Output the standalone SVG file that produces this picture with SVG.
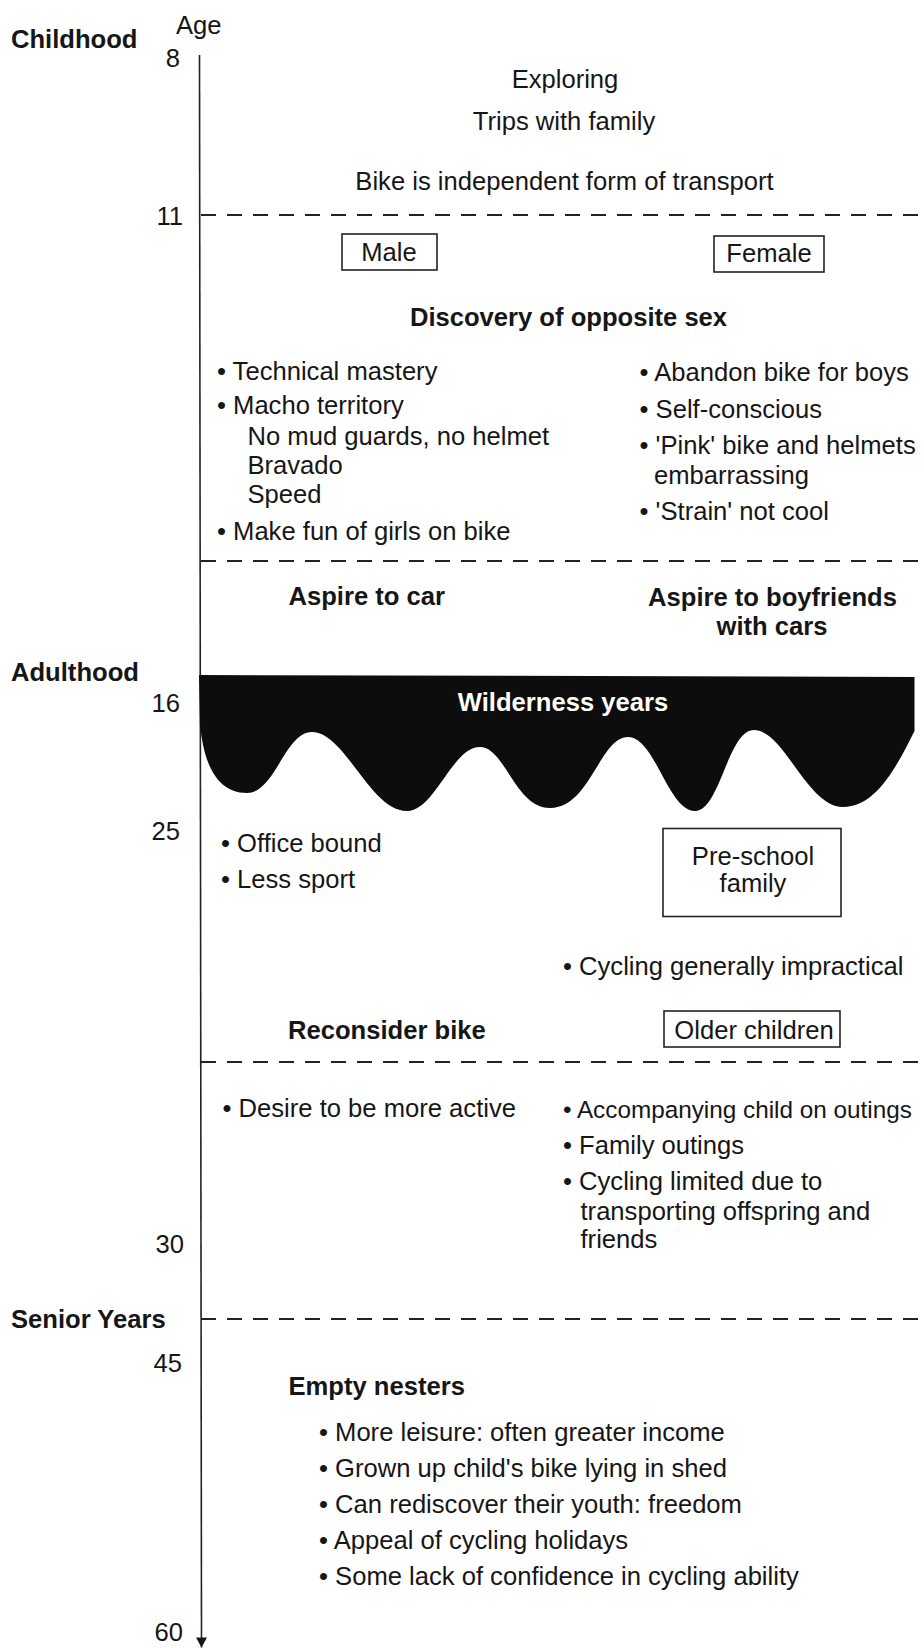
<svg xmlns="http://www.w3.org/2000/svg" width="924" height="1648" viewBox="0 0 924 1648">
<style>
text{font-family:"Liberation Sans",Arial,sans-serif;font-size:25.6px;fill:#161616}
.b{font-weight:bold}
.c{text-anchor:middle}
.e{text-anchor:end}
.n{font-size:24.3px}
.dash{stroke:#222;stroke-width:1.8;stroke-dasharray:15 11;fill:none}
.box{fill:none;stroke:#222;stroke-width:1.6}
.w{fill:#fff}
</style>
<defs>
<marker id="arr" viewBox="0 0 10 11" refX="10" refY="5.5" markerWidth="10" markerHeight="11" markerUnits="userSpaceOnUse" orient="auto">
<path d="M0 0 L10 5.5 L0 11 Z" fill="#161616"/>
</marker>
</defs>
<rect width="924" height="1648" fill="#fff"/>

<g id="connectors">
<line x1="199.5" y1="55" x2="201.5" y2="1647.5" stroke="#222" stroke-width="1.6" marker-end="url(#arr)"/>
<line class="dash" x1="201" y1="215" x2="924" y2="215"/>
<line class="dash" x1="201" y1="561" x2="924" y2="561"/>
<line class="dash" x1="201" y1="1062" x2="924" y2="1062"/>
<line class="dash" x1="201" y1="1319" x2="924" y2="1319"/>
</g>

<g id="axis-labels">
<text class="b" x="11" y="48">Childhood</text>
<text x="176" y="34">Age</text>
<text class="b" x="11" y="681">Adulthood</text>
<text class="b" x="11" y="1328">Senior Years</text>
<text class="e" x="180" y="66.5">8</text>
<text class="e" x="183" y="225">11</text>
<text class="e" x="180" y="712">16</text>
<text class="e" x="180" y="840">25</text>
<text class="e" x="184" y="1253">30</text>
<text class="e" x="182" y="1372">45</text>
<text class="e" x="183" y="1640.5">60</text>
</g>

<g id="childhood">
<text class="c" x="565" y="88">Exploring</text>
<text class="c" x="564" y="130">Trips with family</text>
<text class="c" x="564.5" y="190">Bike is independent form of transport</text>
</g>

<g id="male">
<rect class="box" x="342" y="234" width="95" height="36"/>
<text class="c" x="389" y="261">Male</text>
</g>
<g id="female">
<rect class="box" x="714" y="236" width="110" height="36"/>
<text class="c" x="769" y="262">Female</text>
</g>

<g id="discovery">
<text class="b c" x="568.5" y="326">Discovery of opposite sex</text>
</g>

<g id="male-traits">
<text x="217" y="380">• Technical mastery</text>
<text x="217" y="414">• Macho territory</text>
<text x="247.5" y="445">No mud guards, no helmet</text>
<text x="247.5" y="474">Bravado</text>
<text x="247.5" y="503">Speed</text>
<text x="217" y="540">• Make fun of girls on bike</text>
</g>

<g id="female-traits">
<text x="639.5" y="381">• Abandon bike for boys</text>
<text x="639.5" y="418">• Self-conscious</text>
<text x="639.5" y="454">• 'Pink' bike and helmets</text>
<text x="654" y="484">embarrassing</text>
<text x="639.5" y="520">• 'Strain' not cool</text>
</g>

<g id="aspire-car">
<text class="b" x="288.5" y="605">Aspire to car</text>
</g>
<g id="aspire-boyfriends">
<text class="b c" x="772.5" y="606">Aspire to boyfriends</text>
<text class="b c" x="772" y="635">with cars</text>
</g>

<g id="wilderness">
<path d="M199 675 L914.5 677 L914.5 731 C895 770 875 807 843 807 C807 807 784 730 754 730 C728 730 720 811 695 811 C668 811 655 737 628 737 C600 737 590 808 550 808 C515 808 505 747 480 747 C452 747 435 811 407 811 C370 811 345 732 312 732 C285 732 275 793 247 793 C215 793 203 760 200 723 Z" fill="#0d0d0d"/>
<text class="b c w" x="563" y="711">Wilderness years</text>
</g>

<g id="office">
<text x="221" y="851.5">• Office bound</text>
<text x="221" y="888">• Less sport</text>
</g>

<g id="preschool">
<rect class="box" x="663" y="828.5" width="178" height="88"/>
<text class="c" x="753" y="865">Pre-school</text>
<text class="c" x="753" y="891.5">family</text>
</g>

<g id="impractical">
<text x="563" y="975">• Cycling generally impractical</text>
</g>

<g id="reconsider">
<text class="b" x="288" y="1038.5">Reconsider bike</text>
</g>
<g id="older-children">
<rect class="box" x="664" y="1011" width="176" height="36"/>
<text class="c" x="754" y="1039">Older children</text>
</g>

<g id="active">
<text x="222.5" y="1116.5">• Desire to be more active</text>
</g>

<g id="family-outings">
<text class="n" x="563" y="1118">• Accompanying child on outings</text>
<text x="563" y="1153.5">• Family outings</text>
<text x="563" y="1190">• Cycling limited due to</text>
<text x="580.5" y="1220">transporting offspring and</text>
<text x="580.5" y="1247.5">friends</text>
</g>

<g id="empty-nesters">
<text class="b" x="288.5" y="1394.5">Empty nesters</text>
<text x="319" y="1440.5">• More leisure: often greater income</text>
<text x="319" y="1476.5">• Grown up child's bike lying in shed</text>
<text x="319" y="1512.5">• Can rediscover their youth: freedom</text>
<text x="319" y="1549">• Appeal of cycling holidays</text>
<text x="319" y="1585">• Some lack of confidence in cycling ability</text>
</g>
</svg>
